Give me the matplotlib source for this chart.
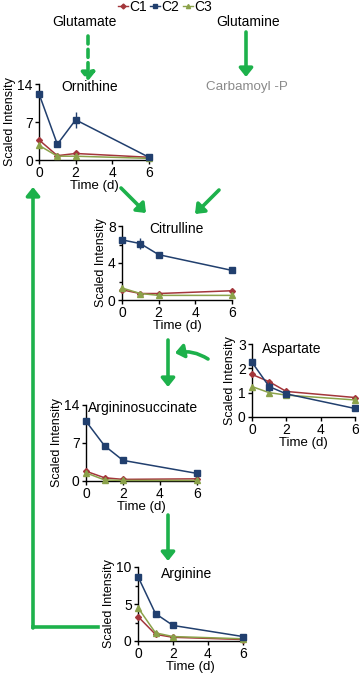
import matplotlib
matplotlib.use("Agg")
import matplotlib.pyplot as plt
from matplotlib.patches import FancyArrowPatch
from matplotlib.lines import Line2D
import numpy as np

plt.rcParams["font.family"] = ["Liberation Sans", "DejaVu Sans"]

W, H = 359, 676

days = [0, 1, 2, 6]

# scaled intensities
orn_c1 = [3.7, 0.8, 1.2, 0.5]
orn_c2 = [12.2, 2.9, 7.4, 0.5]
orn_c3 = [2.7, 0.7, 0.7, 0.3]
orn_err = [0.4, 0.3, 1.5, 0.1]

cit_c1 = [1.1, 0.7, 0.7, 1.0]
cit_c2 = [6.5, 6.1, 4.9, 3.2]
cit_c3 = [1.3, 0.7, 0.5, 0.5]
cit_err = [0.3, 0.6, 0.3, 0.1]

asp_c1 = [1.75, 1.45, 1.05, 0.8]
asp_c2 = [2.25, 1.25, 0.95, 0.35]
asp_c3 = [1.25, 1.0, 0.9, 0.7]
asp_err = [0.1, 0.2, 0.05, 0.03]

ars_c1 = [1.8, 0.6, 0.3, 0.4]
ars_c2 = [11.0, 6.5, 3.8, 1.4]
ars_c3 = [1.5, 0.2, 0.1, 0.1]
ars_err = [0.4, 0.4, 0.2, 0.1]

arg_c1 = [3.3, 0.9, 0.5, 0.2]
arg_c2 = [8.7, 3.7, 2.1, 0.6]
arg_c3 = [4.5, 1.1, 0.6, 0.3]
arg_err = [0.3, 0.2, 0.1, 0.05]

RED = "#a3363b"
BLUE = "#213f6e"
OLIVE = "#8ba24a"
GREEN = "#1db14b"


def fx(x):
    return x / W


def fy(y):
    return 1 - y / H


def px(x, y):
    return (fx(x), fy(y))


fig = plt.figure(figsize=(W / 100, H / 100), dpi=100)


def panel(box, title, c1, c2, c3, err, ymax, yticks, minor, title_xy):
    x0, y0, x1, y1 = box
    ax = fig.add_axes([fx(x0), fy(y1), (x1 - x0) / W, (y1 - y0) / H])
    ax.plot(days, c1, color=RED, marker="D", ms=3, lw=1.1, clip_on=False, zorder=3)
    ax.errorbar(days, c2, yerr=err, color=BLUE, marker="s", ms=5, lw=1.1,
                elinewidth=1, capsize=0, clip_on=False, zorder=4)
    ax.plot(days, c3, color=OLIVE, marker="^", ms=4, lw=1.1, clip_on=False, zorder=3)
    ax.set_xlim(0, 6)
    ax.set_ylim(0, ymax)
    ax.set_xticks([0, 2, 4, 6])
    ax.set_yticks(yticks)
    if minor:
        ax.set_yticks(minor, minor=True)
    for s in ["top", "right"]:
        ax.spines[s].set_visible(False)
    for s in ["left", "bottom"]:
        ax.spines[s].set_linewidth(1)
    ax.tick_params(labelsize=10, length=3, width=1, pad=1.5)
    ax.tick_params(which="minor", length=2.5, width=1)
    ax.set_xlabel("Time (d)", fontsize=9.5, labelpad=0)
    ax.set_ylabel("Scaled Intensity", fontsize=9, labelpad=1)
    ax.patch.set_alpha(0)
    fig.text(fx(title_xy[0]), fy(title_xy[1]), title, fontsize=10,
             ha="center", va="center")
    return ax


panel((39, 84, 149, 160), "Ornithine", orn_c1, orn_c2, orn_c3, orn_err,
      14, [0, 7, 14], None, (90, 87))
panel((122, 226, 232, 300), "Citrulline", cit_c1, cit_c2, cit_c3, cit_err,
      8, [0, 4, 8], [2, 6], (176, 229))
panel((252, 344, 355, 417), "Aspartate", asp_c1, asp_c2, asp_c3, asp_err,
      3, [0, 1, 2, 3], None, (292, 349))
panel((86, 405, 197, 481), "Argininosuccinate", ars_c1, ars_c2, ars_c3, ars_err,
      14, [0, 7, 14], None, (143, 408))
panel((138, 567, 243, 641), "Arginine", arg_c1, arg_c2, arg_c3, arg_err,
      10, [0, 5, 10], [2.5, 7.5], (187, 574))

# metabolite labels
fig.text(fx(84), fy(22), "Glutamate", fontsize=10, ha="center", va="center")
fig.text(fx(248), fy(22), "Glutamine", fontsize=10, ha="center", va="center")
fig.text(fx(247), fy(87), "Carbamoyl -P", fontsize=9.6, ha="center", va="center",
         color="#8a8a8a")


def arrow(a, b, ls="-", rad=0.0):
    p = FancyArrowPatch(px(*a), px(*b), transform=fig.transFigure,
                        arrowstyle="-|>,head_length=5,head_width=4",
                        connectionstyle=f"arc3,rad={rad}",
                        color=GREEN, lw=2.6, linestyle=ls, shrinkA=0, shrinkB=0)
    fig.add_artist(p)


arrow((88, 36), (88, 81), ls=(0, (2.2, 1.5)))
arrow((246, 32), (246, 77))
arrow((121, 188), (146, 213))
arrow((219, 190), (195, 214))
arrow((168, 340), (168, 387))
arrow((208, 359), (175, 353), rad=0.2)
arrow((168, 515), (168, 561))

# return arrow Arginine -> Ornithine
fig.add_artist(Line2D([fx(98), fx(33)], [fy(627), fy(627)], transform=fig.transFigure,
                      color=GREEN, lw=2.6, solid_joinstyle="miter"))
arrow((33, 628), (33, 187))

# legend
handles = [
    Line2D([], [], color=RED, marker="D", ms=2.5, lw=1.0, label="C1"),
    Line2D([], [], color=BLUE, marker="s", ms=3, lw=1.0, label="C2"),
    Line2D([], [], color=OLIVE, marker="^", ms=3, lw=1.0, label="C3"),
]
fig.legend(handles=handles, loc="center", bbox_to_anchor=px(165, 7), ncol=3,
           frameon=False, fontsize=10, handlelength=0.7, handletextpad=0.1,
           columnspacing=0.25, borderpad=0)

fig.savefig("out.png", dpi=100)
